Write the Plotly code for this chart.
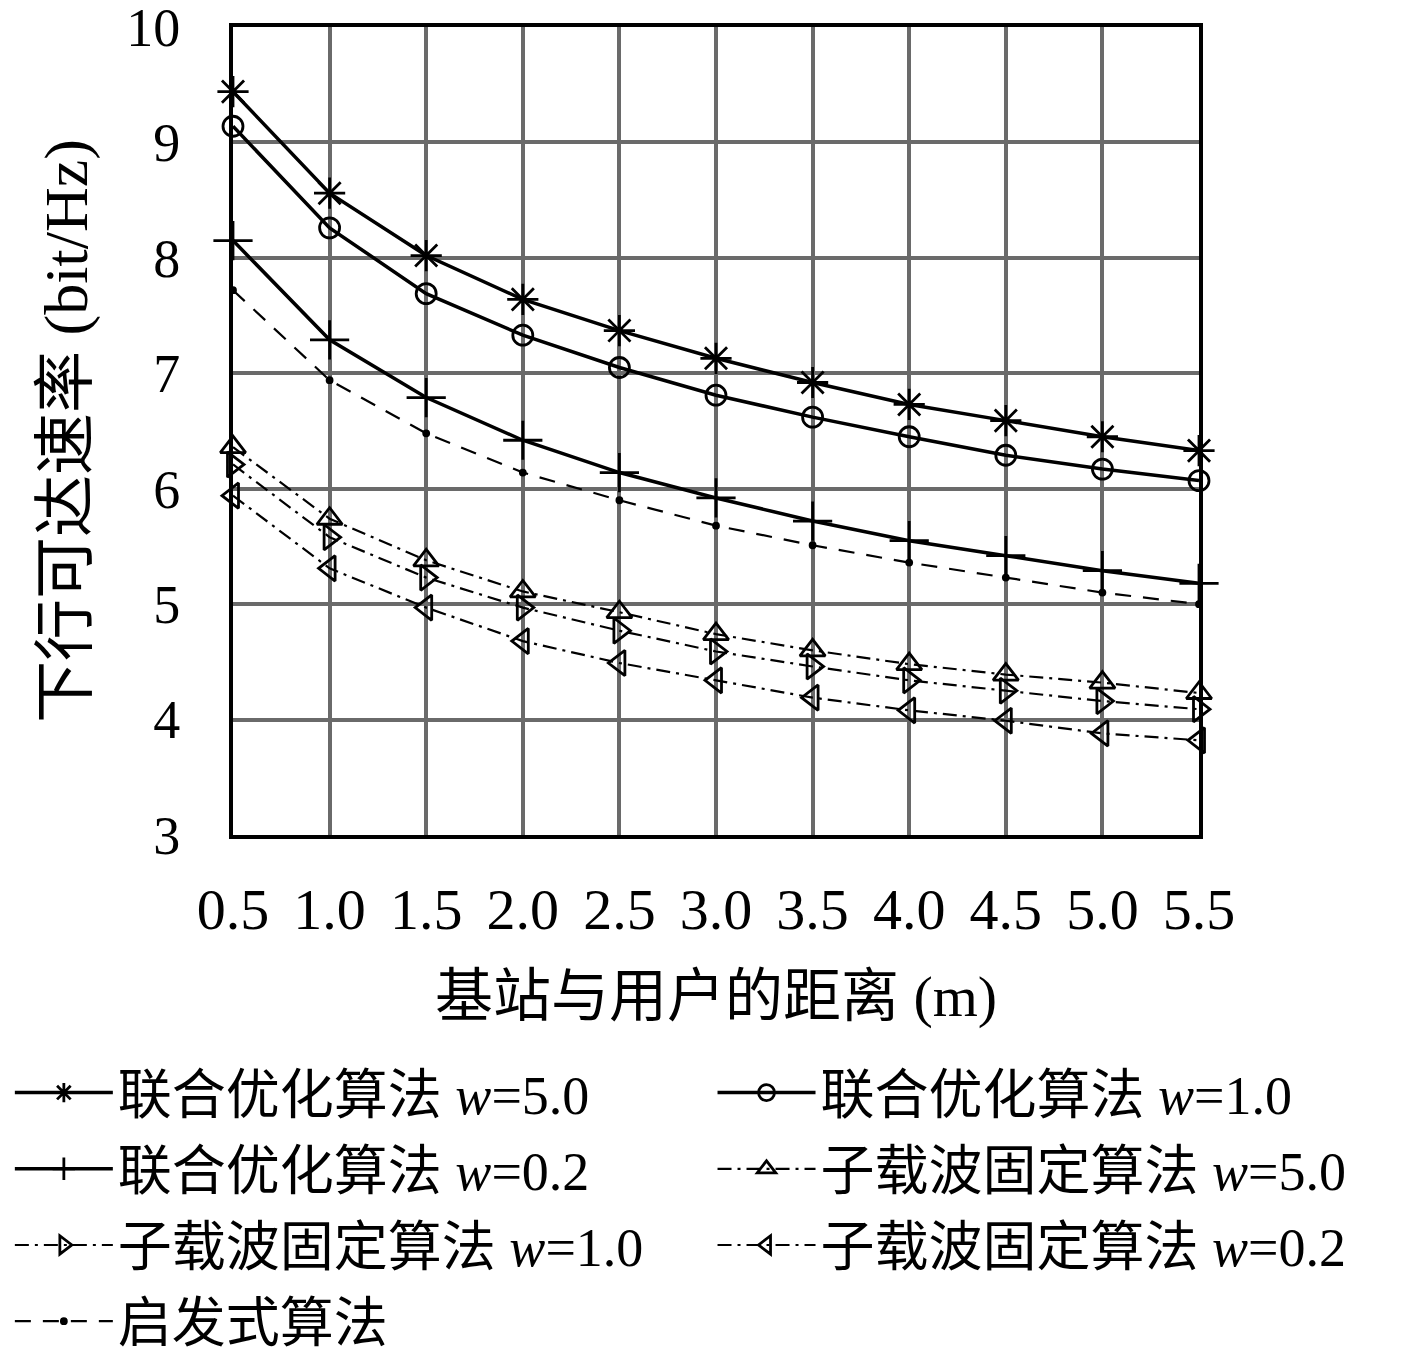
import plotly.graph_objects as go

# distanza (m)
dist = [0.5, 1.0, 1.5, 2.0, 2.5, 3.0, 3.5, 4.0, 4.5, 5.0, 5.5]

# valori (bit/Hz)
joint_w50 = [9.44, 8.56, 8.02, 7.64, 7.37, 7.13, 6.92, 6.73, 6.59, 6.45, 6.33]
joint_w10 = [9.14, 8.26, 7.69, 7.33, 7.05, 6.81, 6.62, 6.45, 6.29, 6.17, 6.07]
joint_w02 = [8.15, 7.29, 6.79, 6.42, 6.14, 5.92, 5.72, 5.55, 5.42, 5.29, 5.18]
fixed_w50 = [6.36, 5.74, 5.38, 5.11, 4.93, 4.74, 4.60, 4.48, 4.39, 4.32, 4.23]
fixed_w10 = [6.21, 5.58, 5.23, 4.97, 4.77, 4.59, 4.46, 4.34, 4.25, 4.16, 4.09]
fixed_w02 = [5.94, 5.31, 4.97, 4.68, 4.49, 4.34, 4.19, 4.08, 3.99, 3.88, 3.82]
heuristic = [7.72, 6.94, 6.48, 6.14, 5.90, 5.68, 5.51, 5.36, 5.23, 5.10, 5.00]

DASHDOT = "14px,6px,3px,6px"
DASHED = "16px,12px"

# nome, valori, tratto, simbolo, dimensione, legenda (colonna)
series = [
    ("联合优化算法 <i>w</i>=5.0", joint_w50, "solid", "asterisk-open", 26, "legend"),
    ("联合优化算法 <i>w</i>=1.0", joint_w10, "solid", "circle-open", 20, "legend2"),
    ("联合优化算法 <i>w</i>=0.2", joint_w02, "solid", "cross-thin-open", 28, "legend"),
    ("子载波固定算法 <i>w</i>=5.0", fixed_w50, DASHDOT, "triangle-up-open", 22, "legend2"),
    ("子载波固定算法 <i>w</i>=1.0", fixed_w10, DASHDOT, "triangle-right-open", 22, "legend"),
    ("子载波固定算法 <i>w</i>=0.2", fixed_w02, DASHDOT, "triangle-left-open", 22, "legend2"),
    ("启发式算法", heuristic, DASHED, "circle", 5, "legend"),
]

FONT = "Liberation Serif, Noto Sans CJK SC, serif"
BG = "white"

fig = go.Figure()
for i, (name, vals, dash, sym, size, leg) in enumerate(series):
    fig.add_trace(go.Scatter(
        x=dist, y=vals, name=name,
        mode="lines+markers",
        line=dict(color="black", width=3.5 if dash == "solid" else 2.2, dash=dash),
        marker=dict(symbol=sym, size=size, color="black",
                    line=dict(color="black", width=2.8)),
        legend=leg, legendgroup=f"g{i}",
        cliponaxis=False,
    ))

legend_style = dict(
    orientation="v",
    yanchor="top", xanchor="left",
    xref="paper", yref="paper",
    y=-0.2673,
    itemwidth=98,
    tracegroupgap=3,
    font=dict(family=FONT, size=54),
    bgcolor="rgba(0,0,0,0)",
)

# la pagina ha 8px di margine: figura 1401x1342, area grafico 966x808
fig.update_layout(
    width=1401, height=1342,
    paper_bgcolor=BG, plot_bgcolor=BG,
    font=dict(family=FONT, size=54, color="black"),
    margin=dict(l=225, r=210, t=19, b=515, autoexpand=False),
    showlegend=True,
    legend=dict(legend_style, x=-0.231),
    legend2=dict(legend_style, x=0.4964),
)

fig.update_xaxes(
    range=[0.5, 5.5],
    tickvals=dist, tickformat=".1f",
    tickfont=dict(size=58), ticklabeloverflow="allow",
    showgrid=True, gridcolor="#6a6a6a", gridwidth=4,
    showline=True, linecolor="black", linewidth=4, mirror=True,
    zeroline=False, ticks="", ticklabelstandoff=20,
    title=dict(text="基站与用户的距离 (m)", standoff=36,
               font=dict(family=FONT, size=58)),
)
fig.update_yaxes(
    range=[3, 10], dtick=1,
    tickfont=dict(size=54), ticklabeloverflow="allow",
    showgrid=True, gridcolor="#6a6a6a", gridwidth=4,
    showline=True, linecolor="black", linewidth=4, mirror=True,
    zeroline=False, ticks="", ticklabelstandoff=38,
    title=dict(text="下行可达速率 (bit/Hz)", standoff=20,
               font=dict(family=FONT, size=62)),
)

fig.write_html("out.html")
